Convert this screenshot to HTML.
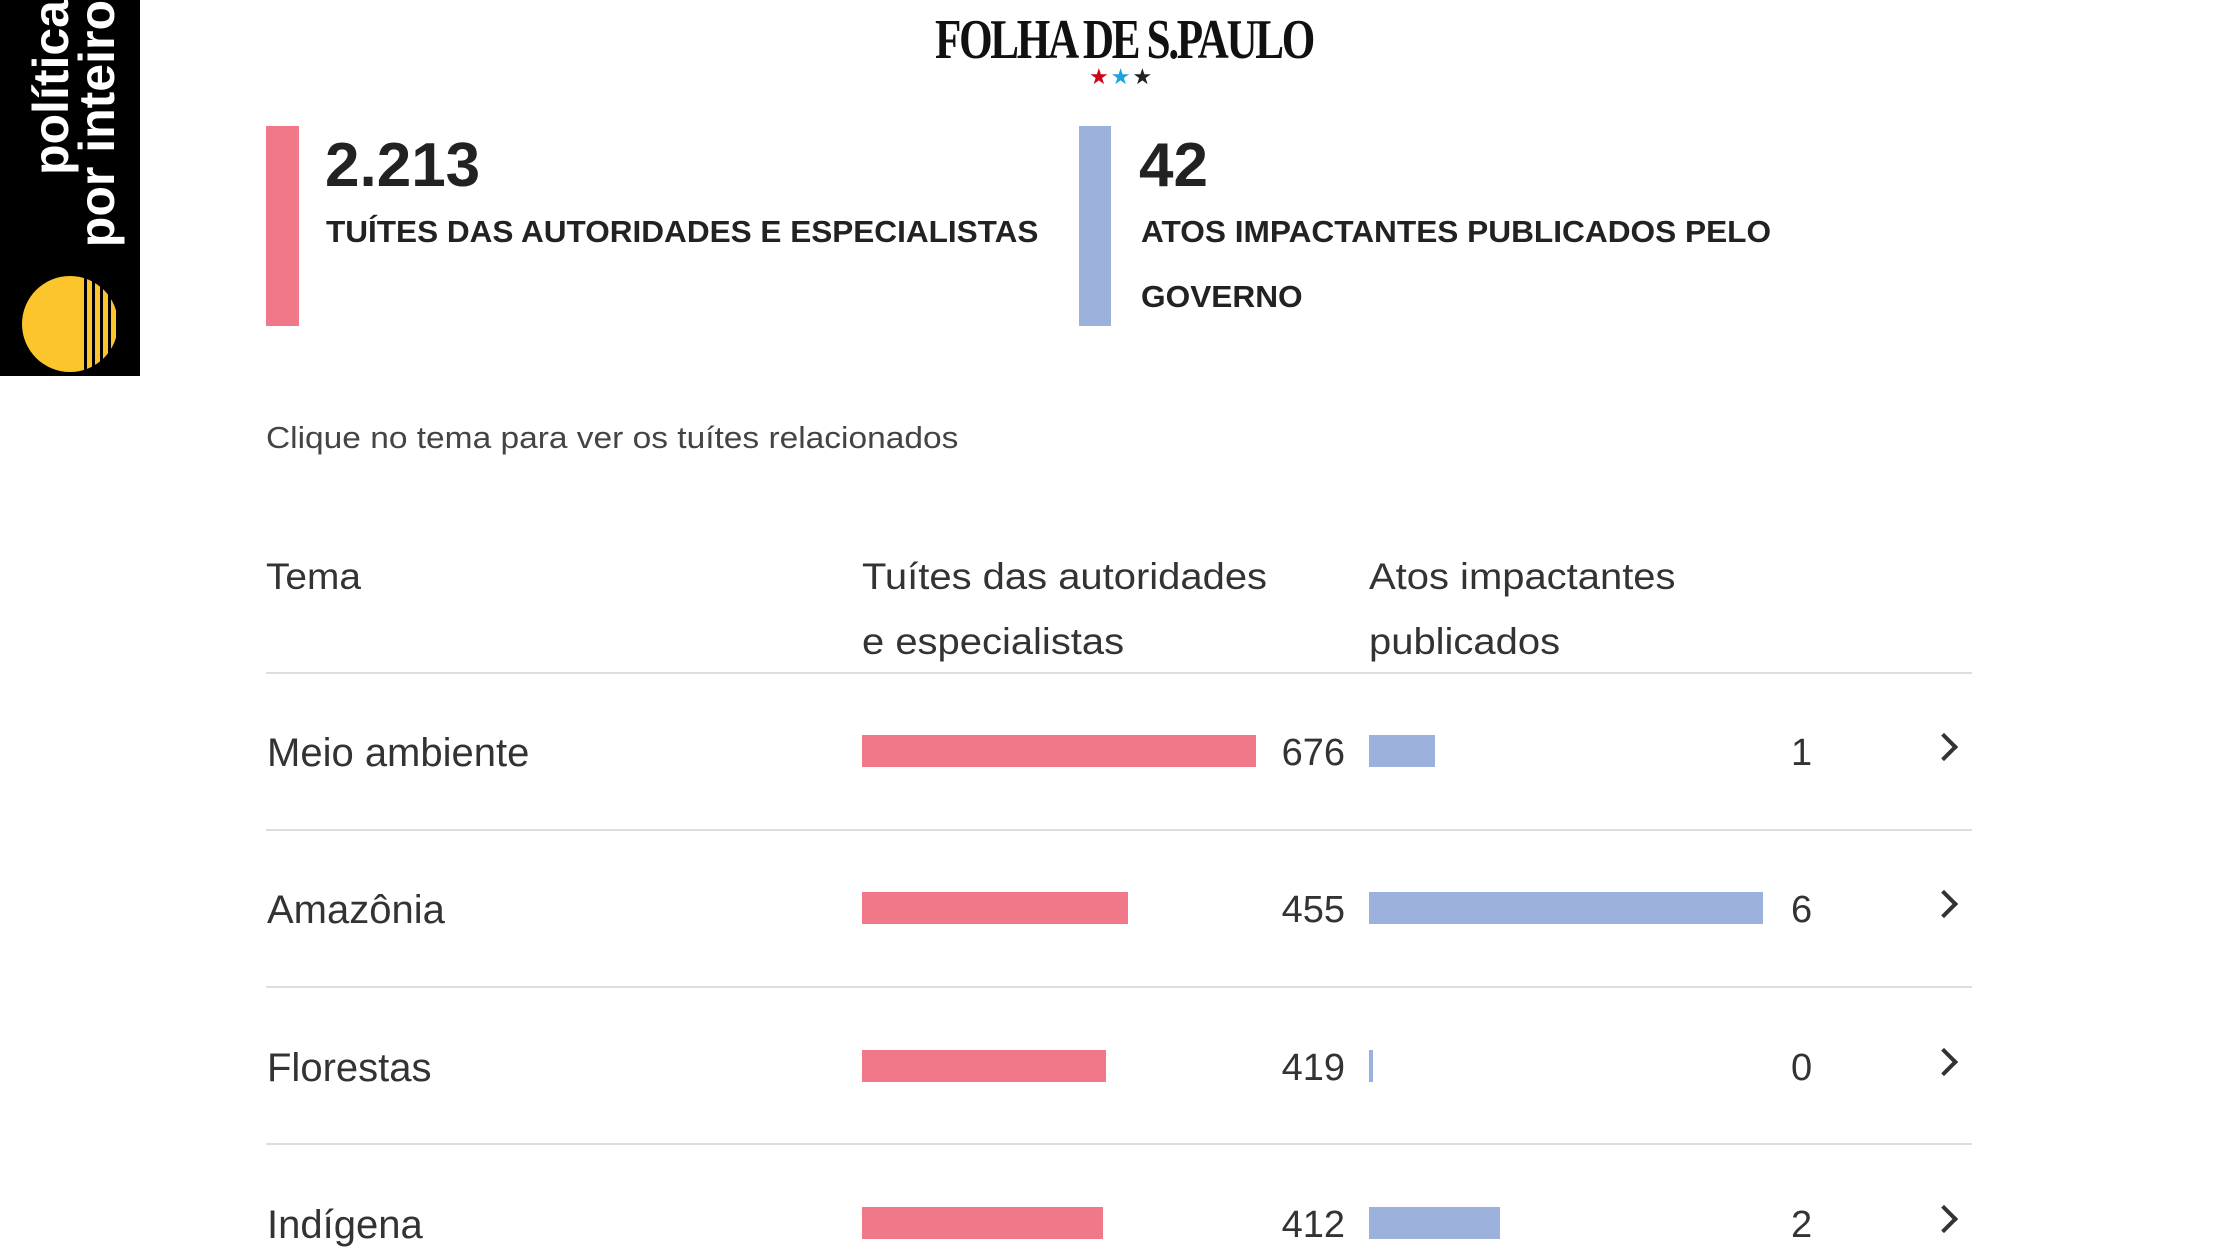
<!DOCTYPE html>
<html><head><meta charset="utf-8"><style>
body{margin:0;width:2240px;height:1260px;background:#fff;position:relative;overflow:hidden;font-family:"Liberation Sans",sans-serif;color:#333}
.a{position:absolute;white-space:nowrap}
.rule{position:absolute;left:266px;width:1706px;height:2px;background:#ddd}
.lbl{position:absolute;left:267px;font-size:40px;line-height:1}
.pb{position:absolute;left:862px;height:32px;background:#f07888}
.bb{position:absolute;left:1369px;height:32px;background:#9bb1dc}
.n1{position:absolute;right:895px;font-size:38px;line-height:1}
.n2{position:absolute;left:1791px;font-size:38px;line-height:1}
.chev{position:absolute;left:1934px;width:16px;height:16px;border-right:4px solid #333;border-top:4px solid #333;transform:rotate(45deg)}
</style></head><body>
<div class="a" style="left:0;top:0;width:140px;height:376px;background:#000"></div>
<div class="a" style="left:22px;top:276px;width:96px;height:96px;border-radius:50%;background:#fcc52b"></div>
<div class="a" style="left:84px;top:276px;width:40px;height:96px;background:repeating-linear-gradient(90deg,#000 0 3px,transparent 3px 8px)"></div>
<div class="a" style="left:-76px;top:104px;width:300px;transform:rotate(-90deg);color:#fff;font-weight:bold;font-size:50px;line-height:46px;text-align:right">política<br>por inteiro</div>

<div class="a" style="left:0;width:2248px;top:8px;text-align:center;font-family:'Liberation Serif',serif;font-weight:bold;font-size:56px;letter-spacing:-3px;transform:scaleX(0.77);color:#111">FOLHA DE S.PAULO</div>
<div class="a" style="left:1089px;top:64px;font-size:22px;letter-spacing:2px"><span style="color:#d0021b">★</span><span style="color:#1ba3e0">★</span><span style="color:#222">★</span></div>

<div class="a" style="left:266px;top:126px;width:33px;height:200px;background:#f07888"></div>
<div class="a" style="left:325px;top:130px;font-size:62px;font-weight:bold;color:#222">2.213</div>
<div class="a" style="left:326px;top:214px;font-size:31px;font-weight:bold;color:#222;transform:scaleX(1.017);transform-origin:left">TUÍTES DAS AUTORIDADES E ESPECIALISTAS</div>

<div class="a" style="left:1079px;top:126px;width:32px;height:200px;background:#9bb1dc"></div>
<div class="a" style="left:1139px;top:130px;font-size:62px;font-weight:bold;color:#222">42</div>
<div class="a" style="left:1141px;top:199px;font-size:31px;font-weight:bold;color:#222;line-height:65px;transform:scaleX(1.02);transform-origin:left">ATOS IMPACTANTES PUBLICADOS PELO<br>GOVERNO</div>

<div class="a" style="left:266px;top:420px;font-size:31px;color:#444;transform:scaleX(1.08);transform-origin:left">Clique no tema para ver os tuítes relacionados</div>

<div class="a" style="left:266px;top:544px;font-size:37px;line-height:65px;transform:scaleX(1.05);transform-origin:left">Tema</div>
<div class="a" style="left:862px;top:544px;font-size:37px;line-height:65px;transform:scaleX(1.08);transform-origin:left">Tuítes das autoridades<br>e especialistas</div>
<div class="a" style="left:1369px;top:544px;font-size:37px;line-height:65px;transform:scaleX(1.08);transform-origin:left">Atos impactantes<br>publicados</div>
<div class="rule" style="top:672px"></div>

<div class="lbl" style="top:733px">Meio ambiente</div>
<div class="pb" style="top:735px;width:394px"></div><div class="n1" style="top:734px">676</div>
<div class="bb" style="top:735px;width:66px"></div><div class="n2" style="top:734px">1</div>
<div class="chev" style="top:737px"></div>
<div class="rule" style="top:829px"></div>

<div class="lbl" style="top:890px">Amazônia</div>
<div class="pb" style="top:892px;width:266px"></div><div class="n1" style="top:891px">455</div>
<div class="bb" style="top:892px;width:394px"></div><div class="n2" style="top:891px">6</div>
<div class="chev" style="top:894px"></div>
<div class="rule" style="top:986px"></div>

<div class="lbl" style="top:1048px">Florestas</div>
<div class="pb" style="top:1050px;width:244px"></div><div class="n1" style="top:1049px">419</div>
<div class="bb" style="top:1050px;width:4px"></div><div class="n2" style="top:1049px">0</div>
<div class="chev" style="top:1052px"></div>
<div class="rule" style="top:1143px"></div>

<div class="lbl" style="top:1205px">Indígena</div>
<div class="pb" style="top:1207px;width:241px"></div><div class="n1" style="top:1206px">412</div>
<div class="bb" style="top:1207px;width:131px"></div><div class="n2" style="top:1206px">2</div>
<div class="chev" style="top:1209px"></div>
</body></html>
